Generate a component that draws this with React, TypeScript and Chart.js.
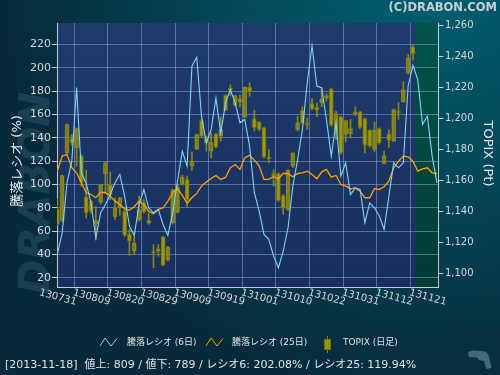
import React, { useEffect, useRef } from 'react';
import { Chart, registerables } from 'chart.js';

Chart.register(...registerables);

// ---------- data ----------
const xTickLabels = ['130731', '130809', '130820', '130829', '130909', '130919', '131001', '131010', '131022', '131031', '131112', '131121'];
const xTickStep = 7;
const leftTicks = [20, 40, 60, 80, 100, 120, 140, 160, 180, 200, 220];
const rightTicks = [1100, 1120, 1140, 1160, 1180, 1200, 1220, 1240, 1260];
const lastDataIndex = 74;

const topixOpen = [1141.7, 1134.2, 1177.8, 1187.1, 1181.1, 1175.7, 1149.2, 1146.5, 1132.0, 1146.0, 1164.3, 1157.4, 1136.6, 1142.4, 1140.2, 1125.2, 1114.4, 1134.8, 1145.6, 1132.5, 1114.2, 1114.4, 1123.7, 1108.6, 1132.7, 1139.6, 1157.4, 1160.6, 1169.2, 1180.2, 1198.7, 1187.1, 1178.9, 1190.1, 1188.6, 1215.1, 1219.8, 1208.6, 1212.9, 1200.9, 1220.4, 1199.8, 1197.8, 1194.0, 1175.1, 1164.5, 1164.5, 1150.3, 1141.3, 1169.2, 1192.9, 1205.2, 1197.2, 1209.7, 1207.3, 1210.1, 1213.1, 1219.1, 1190.3, 1201.1, 1189.7, 1190.1, 1203.0, 1204.3, 1200.0, 1192.3, 1180.0, 1193.5, 1171.0, 1190.1, 1185.4, 1204.7, 1210.8, 1229.5, 1246.2];
const topixClose = [1131.6, 1163.2, 1196.1, 1184.3, 1193.5, 1158.9, 1139.1, 1140.2, 1134.2, 1157.0, 1171.4, 1150.5, 1142.4, 1148.8, 1124.7, 1120.9, 1119.4, 1141.1, 1139.6, 1134.2, 1113.3, 1115.9, 1105.4, 1117.2, 1154.2, 1155.9, 1162.4, 1147.7, 1172.7, 1189.7, 1188.6, 1184.3, 1184.7, 1181.5, 1192.9, 1205.4, 1218.1, 1214.8, 1210.5, 1220.2, 1217.2, 1194.0, 1192.9, 1175.1, 1174.0, 1162.8, 1147.1, 1142.2, 1166.7, 1177.8, 1197.2, 1197.2, 1195.9, 1206.2, 1205.4, 1212.3, 1214.8, 1195.7, 1203.2, 1177.8, 1198.7, 1193.5, 1204.3, 1194.0, 1182.8, 1182.2, 1192.3, 1184.3, 1176.1, 1185.8, 1205.8, 1203.7, 1218.7, 1239.1, 1241.7];
const topixHigh = [1148.2, 1163.5, 1196.5, 1189.7, 1194.0, 1176.5, 1166.5, 1147.0, 1143.4, 1157.5, 1172.0, 1165.6, 1148.8, 1149.2, 1141.0, 1128.4, 1124.1, 1149.9, 1147.7, 1139.1, 1118.7, 1118.7, 1124.0, 1117.5, 1154.5, 1157.0, 1163.4, 1162.8, 1178.5, 1190.0, 1199.4, 1188.6, 1190.8, 1190.5, 1201.1, 1215.5, 1221.9, 1215.0, 1215.1, 1220.5, 1223.0, 1205.4, 1198.0, 1194.5, 1180.0, 1167.1, 1165.0, 1151.0, 1167.0, 1178.0, 1201.5, 1207.5, 1200.4, 1212.9, 1210.1, 1219.8, 1216.1, 1219.5, 1204.7, 1201.5, 1199.0, 1199.4, 1207.5, 1204.7, 1200.4, 1192.7, 1197.8, 1194.0, 1178.9, 1192.9, 1206.2, 1210.1, 1223.7, 1241.3, 1247.7];
const topixLow = [1131.0, 1133.5, 1177.0, 1183.0, 1169.2, 1156.3, 1135.7, 1139.0, 1121.9, 1144.9, 1152.0, 1147.7, 1134.8, 1137.6, 1124.0, 1111.6, 1112.3, 1133.8, 1139.1, 1131.6, 1103.7, 1111.2, 1105.0, 1108.0, 1132.0, 1139.0, 1157.0, 1142.4, 1166.5, 1180.0, 1188.0, 1178.9, 1174.6, 1181.0, 1185.4, 1205.0, 1214.8, 1208.0, 1207.5, 1200.5, 1214.4, 1191.8, 1192.0, 1174.5, 1171.4, 1156.3, 1146.5, 1138.1, 1140.5, 1168.2, 1191.8, 1196.5, 1192.9, 1205.5, 1201.1, 1207.5, 1211.2, 1195.0, 1186.5, 1177.0, 1184.9, 1187.5, 1201.9, 1193.5, 1177.8, 1181.5, 1178.5, 1183.5, 1170.5, 1181.1, 1185.0, 1199.4, 1210.3, 1228.4, 1237.6];

const ratio6 = [40, 58.6, 101.4, 120, 183, 110, 100.9, 84.3, 54.3, 75.7, 82.9, 91.4, 101.4, 108.6, 90, 64.3, 56.3, 82.9, 95.7, 80, 75.7, 78.6, 65.7, 56.3, 75.7, 102.9, 128.6, 115.7, 201.4, 209, 158.6, 135.7, 147, 174, 144, 170, 181.4, 170, 152.9, 155.7, 132.9, 92.9, 77.1, 57.1, 52.9, 38.6, 28.6, 42.9, 62.9, 98.6, 121.4, 147.1, 187.1, 219, 184.3, 182.9, 155.7, 124.3, 152.9, 107.1, 118.6, 91.4, 97.1, 95.7, 67.1, 84.3, 80, 72.9, 61.4, 90, 118.6, 114.3, 118.6, 184.3, 202.08, 190, 151.4, 158.6, 124.3, 101.4];
const ratio25 = [111.4, 124.3, 125.7, 114.3, 110, 101.4, 92.9, 91.4, 88.6, 93.4, 92.9, 90, 85.7, 82.9, 79.1, 78, 80.9, 85.7, 82.9, 77.1, 74.9, 78.6, 80, 85.7, 92.9, 96.3, 90.6, 83.7, 88.6, 92.3, 98.6, 102, 105.1, 107.7, 104.3, 106, 114.3, 117.1, 112.9, 122.9, 124.9, 120.9, 115.7, 104.3, 104.3, 106.6, 104.9, 109.4, 109.4, 106.6, 109.4, 110, 111.4, 108.6, 104.9, 110.6, 112.9, 106.3, 107.7, 100, 98.6, 96.3, 97.1, 94.3, 88.6, 88.6, 96.6, 95.7, 98, 102.9, 114.3, 120, 124.3, 123.7, 119.94, 111.4, 113.4, 114.3, 110, 109.4];

const titleText = '(C)DRABON.COM';
const leftTitle = '騰落レシオ (%)';
const rightTitle = 'TOPIX (Pt)';
const legendLabels = ['騰落レシオ (6日)', '騰落レシオ (25日)', 'TOPIX (日足)'];
const infoText = '[2013-11-18]  値上: 809 / 値下: 789 / レシオ6: 202.08% / レシオ25: 119.94%';
const watermark = 'DRABON';

// ---------- styles ----------
const FONT = '"DejaVu Sans", "Noto Sans CJK JP", sans-serif';
const GRID = 'rgba(165,190,235,0.45)';
const AXIS = '#c4ccd6';
const TICK = '#d2d8df';
const CYAN = '#86d3f0';
const ORANGE = '#ffa000';
const OLIVE_FILL = 'rgba(160,156,14,0.9)';
const OLIVE_LINE = '#8a8712';

const decor = {
  id: 'decor',
  beforeDraw(chart: any) {
    const { ctx, chartArea: ca, scales } = chart;
    const W = chart.width;
    const H = chart.height;
    ctx.save();
    ctx.fillStyle = '#072a3b';
    ctx.fillRect(0, 0, W, H);
    const g = ctx.createRadialGradient(430, -30, 10, 430, -30, 430);
    g.addColorStop(0, 'rgba(0,96,112,1)');
    g.addColorStop(1, 'rgba(0,96,112,0)');
    ctx.fillStyle = g;
    ctx.fillRect(0, 0, W, H);

    // watermark
    ctx.save();
    ctx.translate(38, 193);
    ctx.rotate(-Math.PI / 2);
    ctx.font = `italic bold 42px ${FONT}`;
    ctx.fillStyle = 'rgba(95,140,160,0.22)';
    ctx.textAlign = 'center';
    ctx.textBaseline = 'middle';
    ctx.fillText(watermark, 0, 0);
    ctx.restore();

    // plot background
    const pg = ctx.createLinearGradient(0, ca.top, 0, ca.bottom);
    pg.addColorStop(0, '#1f3a6c');
    pg.addColorStop(1, '#182f5e');
    ctx.fillStyle = pg;
    ctx.fillRect(ca.left, ca.top, ca.width, ca.height);

    // future (no-data) region
    const gx = scales.x.getPixelForValue(lastDataIndex + 0.5);
    const gg = ctx.createLinearGradient(0, ca.top, 0, ca.bottom);
    gg.addColorStop(0, '#00544a');
    gg.addColorStop(1, '#003b34');
    ctx.fillStyle = gg;
    ctx.fillRect(gx, ca.top, ca.right - gx, ca.height);
    ctx.restore();
  },
  afterDraw(chart: any) {
    const { ctx, scales } = chart;
    ctx.save();

    // title
    ctx.font = `bold 11.5px ${FONT}`;
    ctx.fillStyle = '#c9ced3';
    ctx.textAlign = 'right';
    ctx.textBaseline = 'middle';
    ctx.fillText(titleText, 497, 8.5);

    // axis titles
    ctx.font = `13px ${FONT}`;
    ctx.fillStyle = '#e6eaee';
    ctx.textAlign = 'center';
    ctx.save();
    ctx.translate(17.5, 161);
    ctx.rotate(-Math.PI / 2);
    ctx.fillText(leftTitle, 0, 0);
    ctx.restore();
    ctx.save();
    ctx.translate(487.5, 153.5);
    ctx.rotate(Math.PI / 2);
    ctx.fillText(rightTitle, 0, 0);
    ctx.restore();

    // x tick labels (slanted)
    ctx.font = `10px ${FONT}`;
    ctx.fillStyle = TICK;
    ctx.textAlign = 'center';
    ctx.textBaseline = 'middle';
    xTickLabels.forEach((lab, k) => {
      const px = scales.x.getPixelForValue(k * xTickStep);
      ctx.save();
      ctx.translate(px + 0.5, 297.5);
      ctx.rotate(0.26);
      ctx.fillText(lab, 0, 0);
      ctx.restore();
    });

    // legend
    const ly = 342.5;
    const zig = (x0: number, color: string) => {
      ctx.beginPath();
      ctx.moveTo(x0, ly + 3.5);
      ctx.lineTo(x0 + 5, ly - 4.5);
      ctx.lineTo(x0 + 11, ly + 3.5);
      ctx.lineTo(x0 + 17, ly - 4);
      ctx.strokeStyle = color;
      ctx.lineWidth = 1;
      ctx.stroke();
    };
    zig(100, CYAN);
    zig(206, ORANGE);
    ctx.strokeStyle = OLIVE_LINE;
    ctx.beginPath();
    ctx.moveTo(327.5, 336);
    ctx.lineTo(327.5, 353);
    ctx.stroke();
    ctx.fillStyle = OLIVE_FILL;
    ctx.fillRect(324, 339.5, 7, 10);
    ctx.strokeStyle = '#777400';
    ctx.strokeRect(324.5, 339.5, 6, 10);

    ctx.font = `9px ${FONT}`;
    ctx.fillStyle = '#dde2e6';
    ctx.textAlign = 'left';
    ctx.textBaseline = 'middle';
    ctx.fillText(legendLabels[0], 127, ly);
    ctx.fillText(legendLabels[1], 232, ly);
    ctx.fillText(legendLabels[2], 343, ly);

    // info line
    ctx.font = `11px ${FONT}`;
    ctx.fillStyle = '#e0e4e8';
    ctx.fillText(infoText, 5, 365);

    // small logo glyph
    ctx.fillStyle = '#3d6b7c';
    ctx.beginPath();
    ctx.moveTo(468, 352);
    ctx.lineTo(473, 350.5);
    ctx.lineTo(486, 351.5);
    ctx.lineTo(488.5, 355);
    ctx.lineTo(490, 361);
    ctx.lineTo(491.5, 368);
    ctx.lineTo(486.5, 369);
    ctx.lineTo(484, 361);
    ctx.lineTo(479, 360);
    ctx.lineTo(477, 357.5);
    ctx.lineTo(469, 357);
    ctx.closePath();
    ctx.fill();

    ctx.restore();
  },
};

export default function App() {
  const ref = useRef<HTMLCanvasElement | null>(null);

  useEffect(() => {
    if (!ref.current) return;
    const idx = topixOpen.map((_, i) => i);
    const chart = new Chart(ref.current, {
      type: 'bar',
      data: {
        datasets: [
          {
            type: 'line',
            label: legendLabels[0],
            data: ratio6.map((y, i) => ({ x: i, y })),
            borderColor: CYAN,
            borderWidth: 1.1,
            pointRadius: 0,
            tension: 0,
            yAxisID: 'yL',
            order: 0,
          } as any,
          {
            type: 'line',
            label: legendLabels[1],
            data: ratio25.map((y, i) => ({ x: i, y })),
            borderColor: ORANGE,
            borderWidth: 1.3,
            pointRadius: 0,
            tension: 0,
            yAxisID: 'yL',
            order: 0,
          } as any,
          {
            type: 'bar',
            label: 'wick',
            data: idx.map((i) => ({ x: i, y: [topixLow[i], topixHigh[i]] })),
            backgroundColor: OLIVE_LINE,
            borderWidth: 0,
            barThickness: 1,
            grouped: false,
            yAxisID: 'yR',
            order: 2,
          } as any,
          {
            type: 'bar',
            label: legendLabels[2],
            data: idx.map((i) => ({ x: i, y: [topixOpen[i], topixClose[i]] })),
            backgroundColor: idx.map((i) => (topixClose[i] >= topixOpen[i] ? 'rgba(0,0,0,0)' : OLIVE_FILL)),
            borderColor: idx.map((i) => (topixClose[i] >= topixOpen[i] ? OLIVE_LINE : '#767304')),
            borderWidth: 1,
            borderSkipped: false,
            barThickness: 4,
            grouped: false,
            yAxisID: 'yR',
            order: 1,
          } as any,
        ],
      },
      options: {
        responsive: false,
        animation: false,
        devicePixelRatio: 1,
        events: [],
        layout: { padding: { top: 23, left: 0, right: 0, bottom: 0 } },
        plugins: {
          legend: { display: false },
          tooltip: { enabled: false },
          title: { display: false },
        },
        scales: {
          x: {
            type: 'linear',
            min: -0.08,
            max: 79.3,
            offset: false,
            afterBuildTicks: (s: any) => {
              s.ticks = xTickLabels.map((_, k) => ({ value: k * xTickStep }));
            },
            afterFit: (s: any) => {
              s.height = 88;
            },
            ticks: { display: false },
            grid: {
              color: (c: any) => (c.tick && c.tick.value === 0 ? 'rgba(0,0,0,0)' : GRID),
              drawTicks: false,
              lineWidth: 1,
            },
            border: { color: AXIS, width: 1 },
          },
          yL: {
            type: 'linear',
            position: 'left',
            min: 12.1,
            max: 238.4,
            afterBuildTicks: (s: any) => {
              s.ticks = leftTicks.map((v) => ({ value: v }));
            },
            afterFit: (s: any) => {
              s.width = 57;
            },
            ticks: { color: TICK, font: { family: FONT, size: 11 }, padding: 1 },
            grid: { color: GRID, tickColor: AXIS, tickLength: 5, drawTicks: true },
            border: { color: AXIS, width: 1 },
          },
          yR: {
            type: 'linear',
            position: 'right',
            min: 1091.3,
            max: 1261.6,
            afterBuildTicks: (s: any) => {
              s.ticks = rightTicks.map((v) => ({ value: v }));
            },
            afterFit: (s: any) => {
              s.width = 61.6;
            },
            ticks: {
              color: TICK,
              font: { family: FONT, size: 10 },
              padding: 1.5,
              callback: (v: any) => Number(v).toLocaleString('en-US'),
            },
            grid: { drawOnChartArea: false, tickColor: AXIS, tickLength: 5 },
            border: { color: AXIS, width: 1 },
          },
        },
      } as any,
      plugins: [decor],
    });
    return () => chart.destroy();
  }, []);

  return (
    <div style={{ position: 'fixed', left: 0, top: 0, width: 500, height: 375 }}>
      <canvas ref={ref} width={500} height={375} style={{ display: 'block' }} />
    </div>
  );
}
